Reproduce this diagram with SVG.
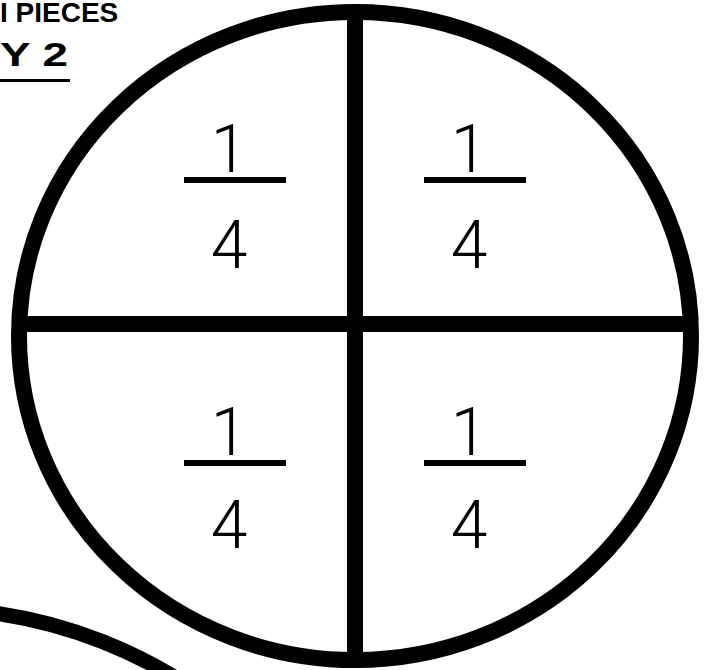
<svg xmlns="http://www.w3.org/2000/svg" width="710" height="670" viewBox="0 0 710 670">
<style>
.num{font-family:Roboto,"Liberation Sans",sans-serif;font-weight:300;font-size:66px;fill:#000;text-anchor:middle}
.bar{fill:#000}
.hd{font-family:"Liberation Sans",Arial,sans-serif;font-weight:bold;fill:#000}
</style>
<rect width="710" height="670" fill="#fff"/>
<g id="title">
<text class="hd" x="0" y="22" font-size="28">I PIECES</text>
<text class="hd" x="0" y="66" font-size="34" textLength="68" lengthAdjust="spacingAndGlyphs">Y 2</text>
<rect x="0" y="79" width="70" height="3" fill="#000"/>
</g>
<g id="circle2">
<circle cx="-71" cy="1081" r="472.5" fill="none" stroke="#000" stroke-width="15"/>
</g>
<g id="circle">
<ellipse cx="355" cy="336" rx="336" ry="324" fill="none" stroke="#000" stroke-width="16"/>
</g>
<g id="dividers">
<rect x="347" y="12" width="16" height="648" fill="#000"/>
<rect x="19" y="316" width="672" height="16" fill="#000"/>
</g>
<g id="q1">
<text class="num" x="229" y="172">1</text>
<rect class="bar" x="184" y="177" width="102" height="6"/>
<text class="num" x="229" y="268">4</text>
</g>
<g id="q2">
<text class="num" x="469" y="172">1</text>
<rect class="bar" x="424" y="177" width="102" height="6"/>
<text class="num" x="469" y="268">4</text>
</g>
<g id="q3">
<text class="num" x="229" y="455">1</text>
<rect class="bar" x="184" y="460" width="102" height="6"/>
<text class="num" x="229" y="548">4</text>
</g>
<g id="q4">
<text class="num" x="469" y="455">1</text>
<rect class="bar" x="424" y="460" width="102" height="6"/>
<text class="num" x="469" y="548">4</text>
</g>
</svg>
